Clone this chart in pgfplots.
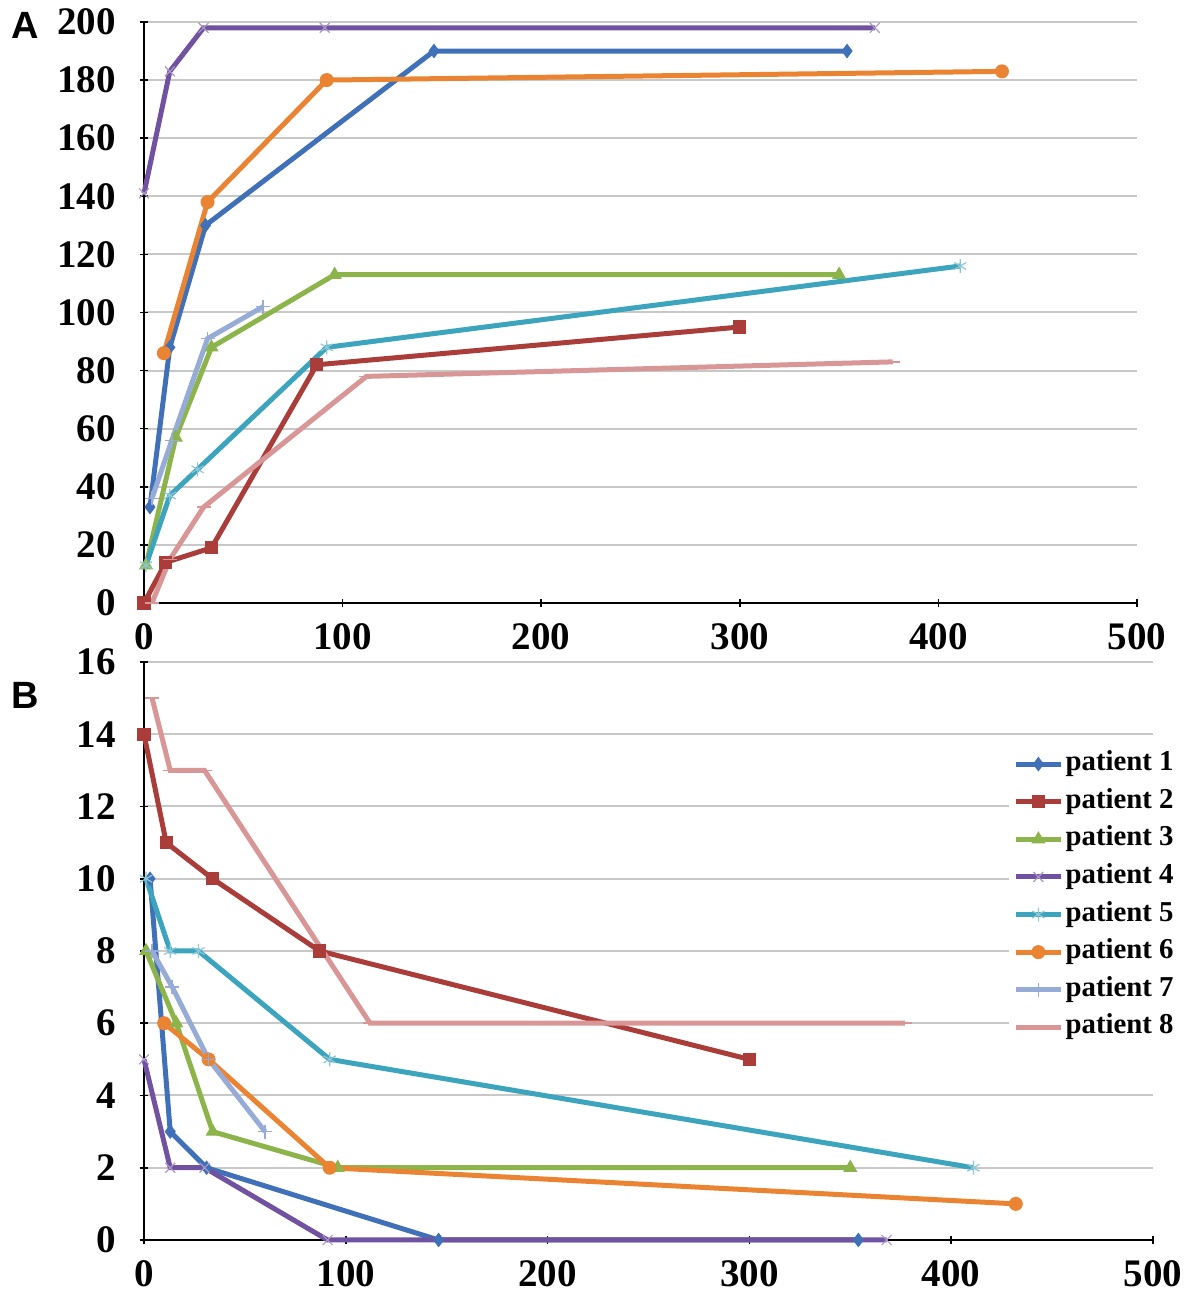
\documentclass[border=0pt]{standalone}
\usepackage{pgfplots}
\pgfplotsset{compat=1.18}
\usepackage{fontspec}
\setmainfont{Liberation Serif}
\newfontfamily\panelfont{Liberation Sans}
\definecolor{pA}{RGB}{64,112,184}
\definecolor{pB}{RGB}{170,60,58}
\definecolor{pC}{RGB}{140,180,75}
\definecolor{pD}{RGB}{112,82,160}
\definecolor{pE}{RGB}{60,164,188}
\definecolor{pF}{RGB}{235,132,50}
\definecolor{pG}{RGB}{150,172,214}
\definecolor{pH}{RGB}{216,150,150}
\definecolor{gridc}{RGB}{200,200,200}
\pgfplotsset{
  common/.style={
    scale only axis,
    clip=false,
    xmin=0, xmax=500,
    xtick={0,100,...,500},
    axis x line*=bottom, axis y line*=left,
    axis line style={-, black, line width=1.2pt},
    ymajorgrids,
    major grid style={gridc, line width=1pt},
    tick align=center,
    major tick length=4pt,
    tick style={black, line width=0.8pt},
    /pgf/number format/assume math mode=true,
    ticklabel style={font=\fontsize{19.5}{20}\selectfont\bfseries},
    yticklabel style={inner sep=0pt, anchor=east, xshift=-12pt},
    xticklabel style={inner sep=0pt, anchor=north, yshift=-8pt},
    every axis plot/.append style={line width=2.5pt},
  },
  m1/.style={color=pA, mark=diamond*, mark size=3.2pt, mark options={line width=0.6pt}},
  m2/.style={color=pB, mark=square*, mark size=3pt, mark options={line width=0.6pt}},
  m3/.style={color=pC, mark=triangle*, mark size=3.5pt, mark options={line width=0.6pt}},
  m4/.style={color=pD, mark=x, mark size=3.5pt, mark options={line width=0.6pt, draw=pD!60}},
  m5/.style={color=pE, mark=asterisk, mark size=3.5pt, mark options={line width=0.6pt, draw=pE!60}},
  m6/.style={color=pF, mark=*, mark size=3.2pt, mark options={line width=0.6pt}},
  m7/.style={color=pG, mark=+, mark size=3.5pt, mark options={line width=0.8pt}},
  m8/.style={color=pH, mark=-, mark size=3.5pt, mark options={line width=0.8pt}},
}
\begin{document}
\begin{tikzpicture}
\path[use as bounding box] (0,0) rectangle (592pt,650pt);
% Panel A
\begin{axis}[common,
  at={(72pt,348.5pt)}, anchor=south west,
  width=496.5pt, height=290.5pt,
  ymin=0, ymax=200, ytick={0,20,...,200}]
\addplot[m1] coordinates {(3,33) (13,88) (31,130) (146,190) (354,190)};
\addplot[m2] coordinates {(0,0) (11,14) (34,19) (87,82) (300,95)};
\addplot[m3] coordinates {(1,13) (16,57) (34,88) (96,113) (350,113)};
\addplot[m4] coordinates {(0,141) (13,183) (30,198) (91,198) (368,198)};
\addplot[m5] coordinates {(1,13) (13,37) (27,46) (92,88) (411,116)};
\addplot[m6] coordinates {(10,86) (32,138) (92,180) (432,183)};
\addplot[m7] coordinates {(4,36) (14,56) (32,91) (60,102)};
\addplot[m8] coordinates {(4,0) (13,15) (30,33) (112,78) (377,83)};
\end{axis}
% Panel B
\begin{axis}[common,
  at={(72pt,30pt)}, anchor=south west,
  width=504.5pt, height=289pt,
  ymin=0, ymax=16, ytick={0,2,...,16},
  legend cell align=left,
  legend image code/.code={\draw[mark repeat=2,mark phase=2] plot coordinates {(0cm,0cm) (0.4cm,0cm) (0.8cm,0cm)};},
  legend style={at={(0.857,0.856)}, anchor=north west, draw=none, fill=white,
    font=\fontsize{14.4}{14.4}\selectfont\bfseries, row sep=4.3pt, inner sep=2pt,
    nodes={inner sep=1pt, text height=9.5pt, text depth=3pt}},
  ]
\addplot[m1] coordinates {(3,10) (13,3) (31,2) (146,0) (354,0)};
\addplot[m2] coordinates {(0,14) (11,11) (34,10) (87,8) (300,5)};
\addplot[m3] coordinates {(1,8) (16,6) (34,3) (96,2) (350,2)};
\addplot[m4] coordinates {(0,5) (13,2) (30,2) (91,0) (368,0)};
\addplot[m5] coordinates {(1,10) (13,8) (27,8) (92,5) (411,2)};
\addplot[m6] coordinates {(10,6) (32,5) (92,2) (432,1)};
\addplot[m7] coordinates {(4,8) (14,7) (32,5) (60,3)};
\addplot[m8] coordinates {(4,15) (13,13) (30,13) (112,6) (377,6)};
\legend{patient 1,patient 2,patient 3,patient 4,patient 5,patient 6,patient 7,patient 8}
\end{axis}
\node[font=\panelfont\fontsize{19}{19}\selectfont\bfseries] at (12.5pt,637.5pt) {A};
\node[font=\panelfont\fontsize{19}{19}\selectfont\bfseries] at (12.5pt,302.5pt) {B};
\end{tikzpicture}
\end{document}
